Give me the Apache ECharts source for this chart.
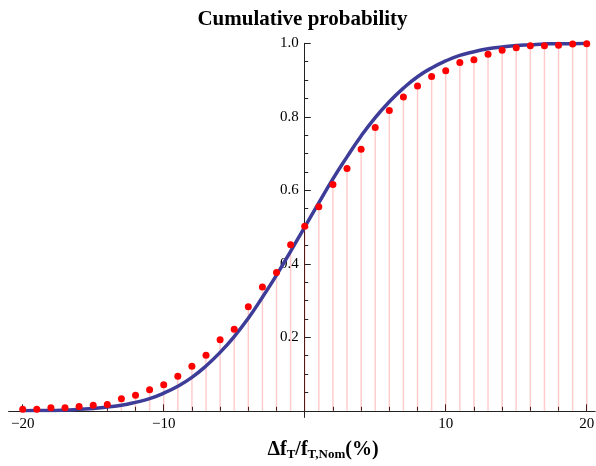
<!DOCTYPE html>
<html><head><meta charset="utf-8">
<script src="https://cdn.jsdelivr.net/npm/echarts@6/dist/echarts.min.js"></script>
<style>html,body{margin:0;padding:0;background:#fff}#c{width:596px;height:466px}</style>
</head><body><div id="c"></div>
<script>
// Red sample points (x in %, cumulative probability)
const xPoints = [-20,-19,-18,-17,-16,-15,-14,-13,-12,-11,-10,-9,-8,-7,-6,-5,-4,-3,-2,-1,0,1,2,3,4,5,6,7,8,9,10,11,12,13,14,15,16,17,18,19,20];
const yPoints = [0.004,0.004,0.008,0.008,0.012,0.015,0.017,0.033,0.042,0.057,0.071,0.094,0.121,0.151,0.193,0.222,0.283,0.337,0.376,0.452,0.502,0.555,0.616,0.659,0.712,0.771,0.817,0.854,0.884,0.910,0.925,0.948,0.955,0.970,0.981,0.988,0.993,0.993,0.995,0.998,0.999];
// Blue fitted curve
const curveX = [-20,-19,-18,-17,-16,-15,-14,-13,-12,-11,-10,-9,-8,-7,-6,-5,-4,-3,-2,-1,0,1,2,3,4,5,6,7,8,9,10,11,12,13,14,15,16,17,18,19,20];
const curveY = [0.000,0.001,0.001,0.002,0.004,0.006,0.010,0.015,0.023,0.033,0.048,0.067,0.091,0.122,0.159,0.202,0.252,0.309,0.369,0.434,0.500,0.566,0.631,0.691,0.748,0.798,0.841,0.878,0.909,0.933,0.952,0.967,0.977,0.985,0.990,0.994,0.996,0.998,0.999,0.999,1.000];
// Tick labels
const xTickLabels = [-20,-10,10,20];
const xMinorTicks = [-20,-18,-16,-14,-12,-10,-8,-6,-4,-2,2,4,6,8,10,12,14,16,18,20];
const yTickLabels = [0.2,0.4,0.6,0.8,1.0];

const SERIF = 'Liberation Serif';
const chart = echarts.init(document.getElementById('c'), null, {renderer:'canvas'});
const X_MIN = -21, X_MAX = 20.6;
const GRID_LEFT = 8.6, GRID_RIGHT = 0.8;
const gridW = 596 - GRID_LEFT - GRID_RIGHT;
const yAxisOffset = -((0 - X_MIN) / (X_MAX - X_MIN)) * gridW;
const axisColor = '#222';

const pts = xPoints.map((x,i)=>[x,yPoints[i]]);
const crv = curveX.map((x,i)=>[x,curveY[i]]);

chart.setOption({
  animation:false,
  backgroundColor:'#fff',
  grid:{left:GRID_LEFT,right:GRID_RIGHT,top:43.3,bottom:55.2,containLabel:false,outerBoundsMode:'none'},
  xAxis:[
    {type:'value',min:X_MIN,max:X_MAX,position:'bottom',
     axisLine:{show:true,onZero:false,lineStyle:{color:axisColor,width:1}},
     axisTick:{show:true,inside:true,length:4,customValues:xMinorTicks,lineStyle:{color:axisColor}},
     axisLabel:{show:true,customValues:xTickLabels,margin:6,color:'#000',fontFamily:SERIF,fontSize:15,
       formatter:v=> v<0 ? '\u2212'+Math.abs(v) : String(v)},
     splitLine:{show:false}},
    {type:'value',min:X_MIN,max:X_MAX,position:'bottom',
     axisLine:{show:false,onZero:false},
     axisTick:{show:true,inside:true,length:6.5,customValues:xTickLabels,lineStyle:{color:axisColor}},
     axisLabel:{show:false},splitLine:{show:false}},
    {type:'value',min:X_MIN,max:X_MAX,position:'bottom',
     axisLine:{show:false,onZero:false},
     axisTick:{show:true,inside:false,length:7,customValues:[0],lineStyle:{color:axisColor}},
     axisLabel:{show:false},splitLine:{show:false}}
  ],
  yAxis:{type:'value',min:0,max:1,interval:0.2,position:'left',offset:yAxisOffset,
    axisLine:{show:true,onZero:false,lineStyle:{color:axisColor,width:1}},
    axisTick:{show:true,inside:true,length:6,lineStyle:{color:axisColor}},
    minorTick:{show:true,splitNumber:4,length:3.5,lineStyle:{color:axisColor}},
    axisLabel:{margin:6,color:'#000',fontFamily:SERIF,fontSize:15,
      formatter:v=> (v===0 ? '' : v.toFixed(1))},
    splitLine:{show:false}},
  series:[
    {type:'bar',data:pts,barWidth:1.5,itemStyle:{color:'rgba(255,0,0,0.2)'},silent:true,z:1},
    {type:'line',data:crv,smooth:true,showSymbol:false,lineStyle:{color:'#3d3d99',width:3.5},z:2},
    {type:'scatter',data:pts,symbol:'circle',symbolSize:7,itemStyle:{color:'#ff0000',opacity:1},z:3}
  ],
  graphic:[
    {type:'text',x:302.5,y:20,style:{text:'Cumulative probability',fontFamily:SERIF,fontWeight:'bold',fontSize:21,fill:'#000',align:'center',verticalAlign:'middle'}},
    {type:'text',x:323,y:450,style:{
      text:'{a|\u0394f}{s|T}{a|/f}{s|T,Nom}{a|(%)}',
      align:'center',verticalAlign:'middle',
      rich:{
        a:{fontFamily:SERIF,fontWeight:'bold',fontSize:20,lineHeight:22,fill:'#000'},
        s:{fontFamily:SERIF,fontWeight:'bold',fontSize:13,lineHeight:12,verticalAlign:'bottom',fill:'#000'}
      }}}
  ]
});
</script></body></html>
